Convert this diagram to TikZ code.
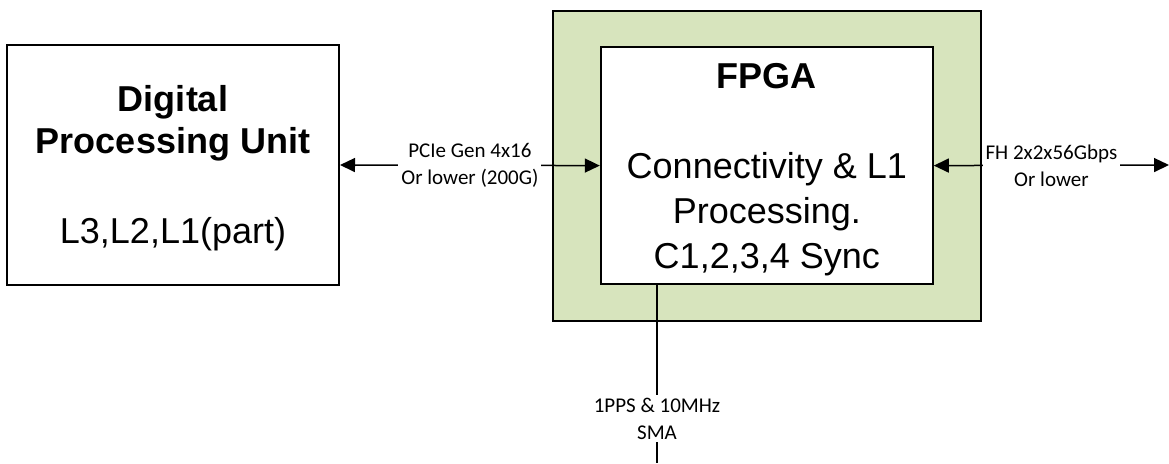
\documentclass[tikz,border=0pt]{standalone}
\usepackage{fontspec}
\setmainfont{Liberation Sans}
\newfontfamily\labelfont{Carlito}
\usetikzlibrary{arrows.meta}
\definecolor{fpgagreen}{HTML}{D7E4BD}
\tikzset{
  block/.style={draw=black, line width=2pt, fill=white, align=center,
                inner sep=0pt, font=\fontsize{36}{42}\selectfont},
  shell/.style={draw=black, line width=2pt, fill=fpgagreen, inner sep=0pt},
  link/.style={line width=1.5pt,
               {Triangle[length=15pt,width=14pt]}-{Triangle[length=15pt,width=14pt]}},
  wire/.style={line width=1.5pt},
  tag/.style={fill=white, inner sep=3pt, align=center,
              font=\labelfont\fontsize{21}{27}\selectfont}
}
\begin{document}
\begin{tikzpicture}[x=1pt,y=-1pt]
  \useasboundingbox (0,0) rectangle (1169,463);

  % host side
  \node[block, minimum width=332pt, minimum height=240pt] (dpu) at (173,165)
    {\rule{0pt}{32pt}\textbf{Digital}\\\textbf{Processing Unit}\\[48pt]L3,L2,L1(part)};

  % FPGA carrier and core
  \node[shell, minimum width=428pt, minimum height=310pt] (board) at (767,165.8) {};
  \node[block, minimum width=332pt, minimum height=237pt,
        font=\fontsize{36}{45}\selectfont] (fpga) at (766.8,165.6)
    {\rule{0pt}{34pt}\textbf{FPGA}\\[45pt]Connectivity \& L1\\Processing.\\C1,2,3,4 Sync};

  % free ends of the outer links
  \coordinate (fh) at (1169,165);
  \coordinate (sma) at (657,463);

  % links
  \draw[link] (dpu.east) -- node[tag] {PCIe Gen 4x16\\Or lower (200G)} (fpga.west);
  \draw[link] (fpga.east) -- node[tag] {FH 2x2x56Gbps\\Or lower} (fh);
  \draw[wire] (fpga.south -| sma) -- node[tag, pos=0.75] {1PPS \& 10MHz\\SMA} (sma);
\end{tikzpicture}
\end{document}
